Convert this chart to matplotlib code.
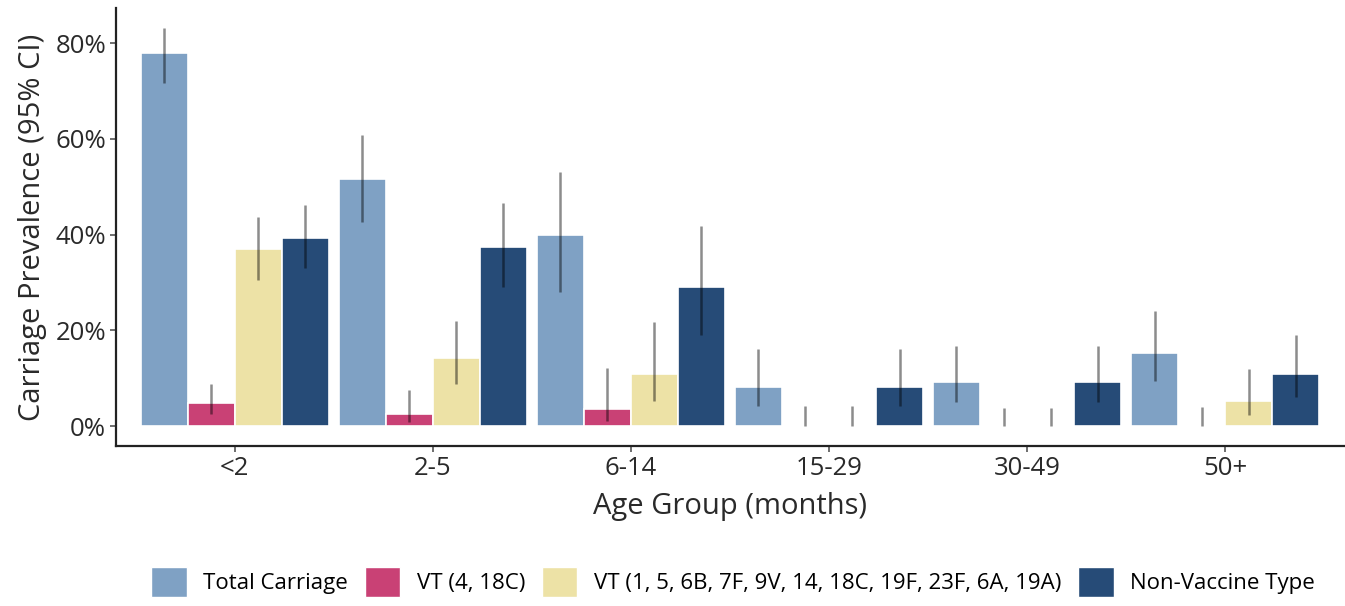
import matplotlib.pyplot as plt
import numpy as np
from matplotlib.patches import Patch

plt.rcParams['font.family'] = ['Open Sans', 'DejaVu Sans']

###############################################################################
# carriage prevalence by age group
###############################################################################

age_groups = ['<2', '2-5', '6-14', '15-29', '30-49', '50+']
series = ['Total Carriage', 'VT (4, 18C)',
          'VT (1, 5, 6B, 7F, 9V, 14, 18C, 19F, 23F, 6A, 19A)', 'Non-Vaccine Type']
colors = ['#7FA1C4', '#C94175', '#EDE2A6', '#264B77']

# prevalence (%) and 95% CI
total = [78.0, 51.7, 39.9, 8.2, 9.2, 15.3]
total_lo = [71.7, 42.6, 28.1, 4.2, 5.1, 9.4]
total_hi = [83.2, 60.8, 53.2, 16.1, 16.7, 24.0]

vt2 = [4.9, 2.5, 3.5, 0.0, 0.0, 0.0]
vt2_lo = [2.6, 0.9, 1.1, 0.0, 0.0, 0.0]
vt2_hi = [8.9, 7.5, 12.2, 4.3, 3.7, 3.9]

vt11 = [37.0, 14.2, 10.8, 0.0, 0.0, 5.35]
vt11_lo = [30.5, 8.9, 5.2, 0.0, 0.0, 2.4]
vt11_hi = [43.75, 21.9, 21.7, 4.3, 3.7, 12.0]

nvt = [39.4, 37.4, 29.0, 8.2, 9.2, 10.8]
nvt_lo = [33.1, 29.0, 19.0, 4.2, 5.1, 6.1]
nvt_hi = [46.25, 46.7, 41.9, 16.1, 16.7, 19.0]

means = [total, vt2, vt11, nvt]
lows = [total_lo, vt2_lo, vt11_lo, nvt_lo]
highs = [total_hi, vt2_hi, vt11_hi, nvt_hi]

fig = plt.figure(figsize=(13.45, 6.06), dpi=100)
ax = fig.add_axes([0.0862, 0.264, 0.913, 0.723])

x = np.arange(1, len(age_groups) + 1)
pitch = 0.95 / 4
for i, (m, lo, hi, c) in enumerate(zip(means, lows, highs, colors)):
    xs = x + (i - 1.5) * pitch
    ax.bar(xs, m, width=pitch, color=c, edgecolor='white', linewidth=1.2, zorder=2)
    ax.vlines(xs, lo, hi, color='black', alpha=0.45, linewidth=1.8, zorder=3)

ax.set_xlim(0.4, 6.6)
ax.set_ylim(-4.16, 87.4)
ax.set_yticks([0, 20, 40, 60, 80])
ax.set_yticklabels(['0%', '20%', '40%', '60%', '80%'])
ax.set_xticks(x)
ax.set_xticklabels(age_groups)

for s in ['top', 'right']:
    ax.spines[s].set_visible(False)
for s in ['left', 'bottom']:
    ax.spines[s].set_linewidth(1.6)
    ax.spines[s].set_color('#222222')
ax.tick_params(axis='both', length=4, width=1.2, color='#555555', pad=3,
               labelsize=18.5, labelcolor='#2a2a2a')
ax.set_ylabel('Carriage Prevalence (95% CI)', fontsize=21, color='#2a2a2a', labelpad=6)
ax.set_xlabel('Age Group (months)', fontsize=21, color='#2a2a2a', labelpad=8)

handles = [Patch(facecolor=c, edgecolor='white') for c in colors]
fig.legend(handles, series, loc='center', bbox_to_anchor=(0.545, 0.04), ncol=4,
           frameon=False, fontsize=16, handlelength=1.6, handleheight=1.7,
           handletextpad=0.75, columnspacing=0.75)

plt.savefig('out.png')
